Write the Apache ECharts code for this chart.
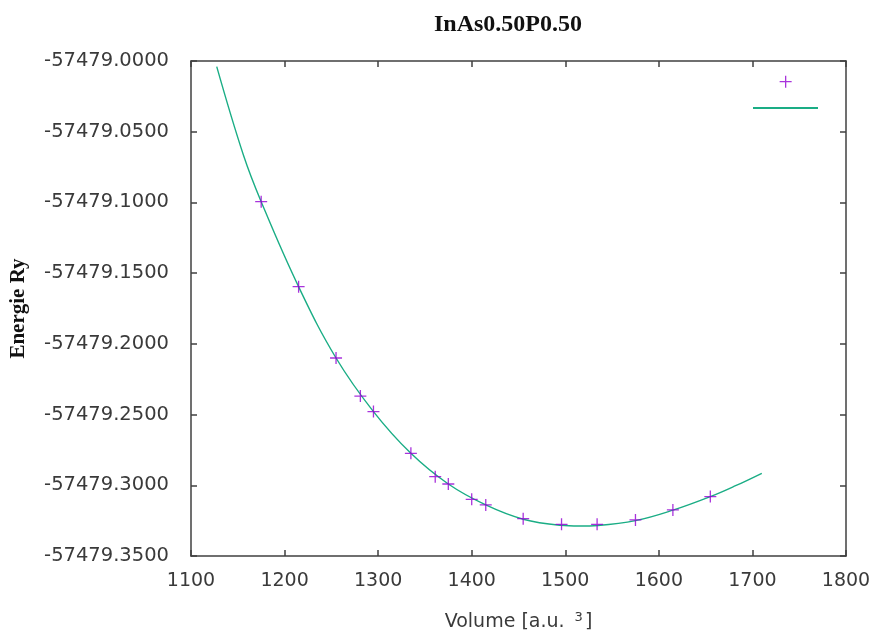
<!DOCTYPE html>
<html>
<head>
<meta charset="utf-8">
<script src="https://cdn.jsdelivr.net/npm/echarts@6/dist/echarts.min.js"></script>
<style>html,body{margin:0;padding:0;background:#fff;}#c{width:875px;height:637px;}</style>
</head>
<body>
<div id="c"></div>
<script>
// measured points
const volumes = [1175, 1215, 1255, 1281, 1295, 1335, 1361, 1375, 1400, 1415, 1455, 1496, 1534, 1575, 1615, 1655];
const energies = [-57479.0995, -57479.1596, -57479.2100, -57479.2369, -57479.2479, -57479.2774, -57479.2939, -57479.2991,
                  -57479.3099, -57479.3139, -57479.3236, -57479.3276, -57479.3276, -57479.3245, -57479.3174, -57479.3080];
// fitted curve
const fitVolumes = [1127.5, 1156, 1175, 1215, 1255, 1295, 1335, 1375, 1415, 1455, 1495, 1515, 1535, 1575, 1615, 1655, 1682, 1710];
const fitEnergies = [-57479.0040, -57479.0665, -57479.0995, -57479.1596, -57479.2100, -57479.2479, -57479.2774, -57479.2991,
                     -57479.3139, -57479.3240, -57479.3283, -57479.3288, -57479.3284, -57479.3250, -57479.3176, -57479.3080, -57479.3003, -57479.2915];
const titleText = 'InAs0.50P0.50';
const xName = 'Volume [a.u. ';
const yName = 'Energie Ry';

const pts = volumes.map((v, i) => [v, energies[i]]);
const fit = fitVolumes.map((v, i) => [v, fitEnergies[i]]);

const axisCol = '#404040';
const labelCol = '#3a3a3a';
const sans = 'DejaVu Sans';
const serif = 'Liberation Serif';
const plusPath = 'path://M0,5L10,5M5,0L5,10';

const chart = echarts.init(document.getElementById('c'), null, {renderer: 'canvas'});
chart.setOption({
  animation: false,
  backgroundColor: '#fff',
  title: {
    text: titleText, left: 429, top: 8,
    textStyle: {fontFamily: serif, fontWeight: 'bold', fontSize: 24, color: '#111'}
  },
  grid: {left: 191, right: 29, top: 61, bottom: 81, containLabel: false},
  legend: [
    {data: ['data'], left: 779, top: 75, padding: 0, itemGap: 0, itemWidth: 12, itemHeight: 12,
     icon: plusPath, formatter: () => '', textStyle: {fontSize: 1},
     itemStyle: {color: 'transparent', borderColor: '#9400d3', borderWidth: 1.3}},
    {data: ['fit'], left: 753, top: 107, padding: 0, itemGap: 0, itemWidth: 65, itemHeight: 2,
     icon: 'rect', formatter: () => '', textStyle: {fontSize: 1}}
  ],
  xAxis: [
    {type: 'value', min: 1100, max: 1800, interval: 100, position: 'bottom',
     name: '{a|' + xName + '}{s|3}{a|]}', nameLocation: 'middle', nameGap: 55,
     nameTextStyle: {rich: {a: {fontFamily: sans, fontSize: 19, color: labelCol},
                            s: {fontFamily: sans, fontSize: 13, color: labelCol, verticalAlign: 'top', padding: [0, 2, 10, 4]}}},
     axisLine: {show: true, lineStyle: {color: axisCol, width: 1.5}},
     axisTick: {show: true, inside: true, length: 6, lineStyle: {color: axisCol, width: 1.5}},
     axisLabel: {fontFamily: sans, fontSize: 19, color: labelCol, margin: 16, formatter: v => String(v)},
     splitLine: {show: false}},
    {type: 'value', min: 1100, max: 1800, interval: 100, position: 'top',
     axisLine: {show: true, lineStyle: {color: axisCol, width: 1.5}},
     axisTick: {show: true, inside: true, length: 6, lineStyle: {color: axisCol, width: 1.5}},
     axisLabel: {show: false}, splitLine: {show: false}}
  ],
  yAxis: [
    {type: 'value', min: -57479.35, max: -57479.0, interval: 0.05, position: 'left',
     name: yName, nameLocation: 'middle', nameGap: 162,
     nameTextStyle: {fontFamily: serif, fontWeight: 'bold', fontSize: 21, color: '#111'},
     axisLine: {show: true, lineStyle: {color: axisCol, width: 1.5}},
     axisTick: {show: true, inside: true, length: 6, lineStyle: {color: axisCol, width: 1.5}},
     axisLabel: {fontFamily: sans, fontSize: 19.5, color: labelCol, margin: 22,
                 formatter: v => v.toFixed(4)},
     splitLine: {show: false}},
    {type: 'value', min: -57479.35, max: -57479.0, interval: 0.05, position: 'right',
     axisLine: {show: true, lineStyle: {color: axisCol, width: 1.5}},
     axisTick: {show: true, inside: true, length: 6, lineStyle: {color: axisCol, width: 1.5}},
     axisLabel: {show: false}, splitLine: {show: false}}
  ],
  series: [
    {name: 'fit', type: 'line', data: fit, smooth: 0.4, showSymbol: false, symbol: 'none',
     lineStyle: {color: '#1aad85', width: 1.4}, itemStyle: {color: '#1aad85'}, z: 2},
    {name: 'data', type: 'scatter', data: pts, symbol: plusPath, symbolSize: 12,
     itemStyle: {color: 'transparent', borderColor: '#9400d3', borderWidth: 1.3}, z: 3}
  ]
});
</script>
</body>
</html>
